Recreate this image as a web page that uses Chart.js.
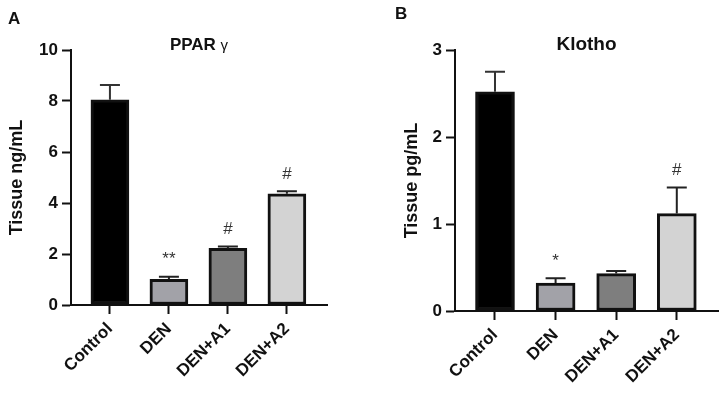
<!DOCTYPE html>
<html lang="en">
<head>
  <meta charset="UTF-8" />
  <title>PPAR gamma / Klotho</title>
  <script src="https://cdn.jsdelivr.net/npm/chart.js"></script>
  <style>
    body { margin: 0; background: #fff; }
    .row { display: flex; width: 724px; height: 400px; }
    canvas { display: block; }
  </style>
</head>
<body>
  <div class="row">
    <canvas id="chartA" width="362" height="400"></canvas>
    <canvas id="chartB" width="362" height="400"></canvas>
  </div>

  <script>
    // donnees
    const categories = ['Control', 'DEN', 'DEN+A1', 'DEN+A2'];
    const barColors = ['#000000', '#a2a2a8', '#7e7e7e', '#d3d3d3'];

    const ppargMeans = [8.05, 1.01, 2.22, 4.36];
    const ppargErrors = [0.58, 0.10, 0.07, 0.10];
    const ppargMarks = ['', '**', '#', '#'];

    const klothoMeans = [2.52, 0.32, 0.43, 1.12];
    const klothoErrors = [0.23, 0.056, 0.03, 0.30];
    const klothoMarks = ['', '*', '', '#'];

    const FONT = '"Liberation Sans", Arial, sans-serif';
    const INK = '#111';

    // barres d'erreur, etoiles, titre et lettre du panneau
    const extrasPlugin = {
      id: 'extras',
      afterDatasetsDraw(chart, args, opts) {
        const ctx = chart.ctx;
        const xs = chart.scales.x, ys = chart.scales.y;
        ctx.save();
        opts.means.forEach((m, i) => {
          const x = xs.getPixelForValue(i);
          const yTop = ys.getPixelForValue(m + opts.errors[i]);
          const yBar = ys.getPixelForValue(m);
          ctx.strokeStyle = i === 0 ? '#333' : '#222';
          ctx.lineWidth = 2;
          ctx.beginPath();
          ctx.moveTo(x, yBar);
          ctx.lineTo(x, yTop);
          ctx.moveTo(x - 10, yTop);
          ctx.lineTo(x + 10, yTop);
          ctx.stroke();
          if (opts.marks[i]) {
            ctx.fillStyle = '#333';
            ctx.font = '17px ' + FONT;
            ctx.textAlign = 'center';
            ctx.textBaseline = 'middle';
            ctx.fillText(opts.marks[i], x, yTop - 17);
          }
        });

        // lettre
        ctx.fillStyle = INK;
        ctx.font = 'bold 17px ' + FONT;
        ctx.textAlign = 'left';
        ctx.textBaseline = 'top';
        ctx.fillText(opts.letter, opts.letterX, opts.letterY);

        // titre
        const cx = (chart.chartArea.left + chart.chartArea.right) / 2;
        const tf = 'bold ' + opts.titleSize + 'px ' + FONT;
        ctx.textBaseline = 'middle';
        ctx.font = tf;
        const w1 = ctx.measureText(opts.title).width;
        ctx.font = '15px ' + FONT;
        const w2 = opts.suffix ? ctx.measureText(opts.suffix).width : 0;
        let x0 = cx - (w1 + w2) / 2;
        ctx.font = tf;
        ctx.fillText(opts.title, x0, 45);
        if (opts.suffix) {
          ctx.font = '15px ' + FONT;
          ctx.fillText(opts.suffix, x0 + w1, 46);
        }
        ctx.restore();
      }
    };

    function makeChart(id, means, errors, marks, cfg) {
      const ctx = document.getElementById(id).getContext('2d');
      return new Chart(ctx, {
        type: 'bar',
        data: {
          datasets: [{
            data: means.map((v, i) => ({ x: i, y: v })),
            backgroundColor: barColors,
            borderColor: INK,
            borderWidth: 3,
            borderSkipped: false,
            barThickness: cfg.barWidth
          }]
        },
        options: {
          responsive: false,
          animation: false,
          layout: { padding: { left: cfg.padLeft, right: cfg.padRight, top: 50, bottom: 0 } },
          plugins: {
            legend: { display: false },
            tooltip: { enabled: false },
            extras: {
              means: means, errors: errors, marks: marks,
              letter: cfg.letter, letterX: cfg.letterX, letterY: cfg.letterY,
              title: cfg.title, suffix: cfg.suffix, titleSize: cfg.titleSize
            }
          },
          scales: {
            x: {
              type: 'linear',
              offset: false,
              min: -0.66,
              max: 3.68,
              afterBuildTicks: s => { s.ticks = categories.map((c, i) => ({ value: i })); },
              afterFit: s => { s.height = cfg.xHeight; },
              ticks: {
                autoSkip: false,
                minRotation: 45,
                maxRotation: 45,
                padding: 5,
                color: INK,
                font: { family: FONT, size: 17, weight: 'bold' },
                callback: v => categories[Math.round(v)]
              },
              grid: { offset: false, drawOnChartArea: false, tickLength: 9, tickWidth: 2, tickColor: INK },
              border: { color: INK, width: 2 }
            },
            y: {
              min: 0,
              max: cfg.yMax,
              afterFit: s => { s.width = cfg.yWidth; },
              ticks: {
                stepSize: cfg.yStep,
                padding: 4,
                color: INK,
                font: { family: FONT, size: 17, weight: 'bold' }
              },
              grid: { drawOnChartArea: false, tickLength: 9, tickWidth: 2, tickColor: INK },
              border: { color: INK, width: 2 },
              title: {
                display: true,
                text: cfg.yTitle,
                color: INK,
                padding: 0,
                font: { family: FONT, size: 18, weight: 'bold' }
              }
            }
          }
        },
        plugins: [extrasPlugin]
      });
    }

    makeChart('chartA', ppargMeans, ppargErrors, ppargMarks, {
      letter: 'A', letterX: 8, letterY: 11,
      title: 'PPAR ', suffix: 'γ', titleSize: 17,
      yTitle: 'Tissue ng/mL', yMax: 10, yStep: 2,
      padLeft: 6, yWidth: 65, padRight: 35, xHeight: 95, barWidth: 38
    });

    makeChart('chartB', klothoMeans, klothoErrors, klothoMarks, {
      letter: 'B', letterX: 33, letterY: 6,
      title: 'Klotho', suffix: '', titleSize: 19,
      yTitle: 'Tissue pg/mL', yMax: 3, yStep: 1,
      padLeft: 39, yWidth: 54, padRight: 6, xHeight: 89, barWidth: 39
    });
  </script>
</body>
</html>
